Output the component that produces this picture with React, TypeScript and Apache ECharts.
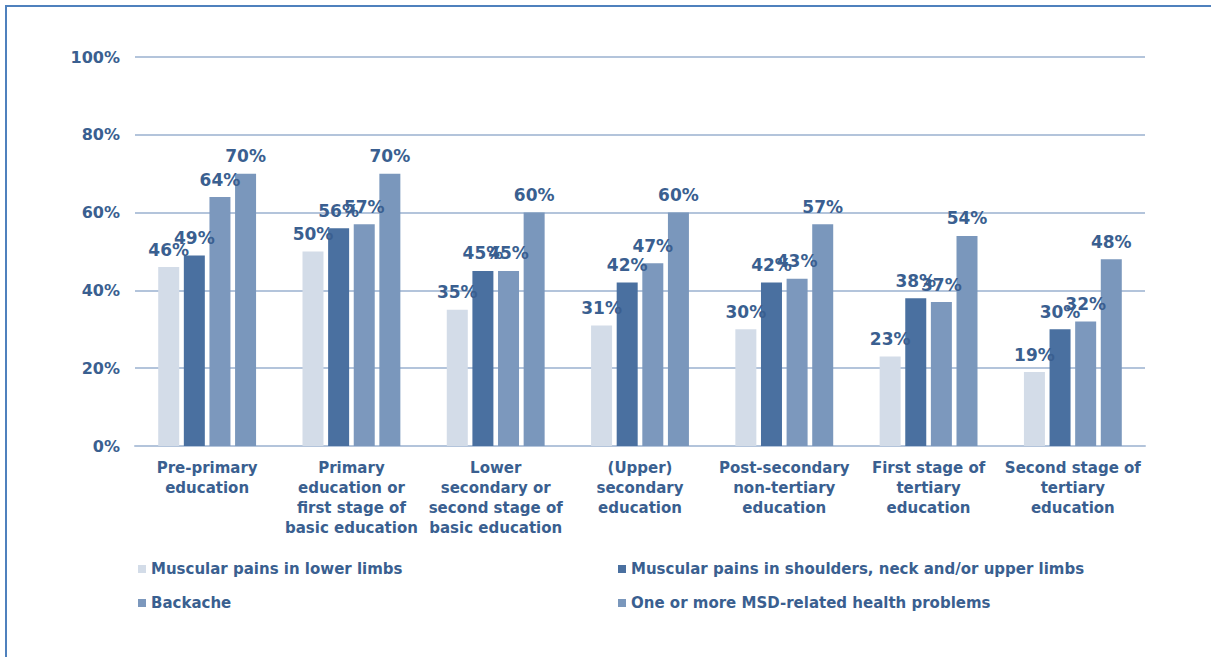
import React, { useEffect, useRef } from "react";
import * as echarts from "echarts";

const categories = [
  "Pre-primary\neducation",
  "Primary\neducation or\nfirst stage of\nbasic education",
  "Lower\nsecondary or\nsecond stage of\nbasic education",
  "(Upper)\nsecondary\neducation",
  "Post-secondary\nnon-tertiary\neducation",
  "First stage of\ntertiary\neducation",
  "Second stage of\ntertiary\neducation",
];

const seriesNames = [
  "Muscular pains in lower limbs",
  "Muscular pains in shoulders, neck and/or upper limbs",
  "Backache",
  "One or more MSD-related health problems",
];

const lowerLimbs = [46, 50, 35, 31, 30, 23, 19];
const upperLimbs = [49, 56, 45, 42, 42, 38, 30];
const backache = [64, 57, 45, 47, 43, 37, 32];
const msdAny = [70, 70, 60, 60, 57, 54, 48];

const yTicks = [0, 20, 40, 60, 80, 100];

const colors = ["#d3dce8", "#4a70a0", "#7c98bd", "#7a97bc"];
const textColor = "#3a5f90";
const font = "'DejaVu Sans', Verdana, sans-serif";

export default function App() {
  const ref = useRef<HTMLDivElement>(null);
  useEffect(() => {
    if (!ref.current) return;
    const chart = echarts.init(ref.current, undefined, { renderer: "svg" });
    const values = [lowerLimbs, upperLimbs, backache, msdAny];
    const legendText = { color: textColor, fontWeight: "bold", fontSize: 15, fontFamily: font, lineHeight: 16 };
    chart.setOption({
      animation: false,
      backgroundColor: "#ffffff",
      textStyle: { fontFamily: font },
      graphic: [
        {
          type: "rect",
          shape: { x: 6, y: 6, width: 1220, height: 670 },
          style: { fill: "none", stroke: "#4f81bd", lineWidth: 2 },
          silent: true,
        },
      ],
      grid: { left: 135, right: 66, top: 57, bottom: 211, containLabel: false },
      legend: [
        {
          data: [seriesNames[0], seriesNames[2]],
          orient: "vertical",
          left: 133,
          top: 556,
          itemWidth: 8,
          itemHeight: 8,
          itemGap: 18,
          icon: "rect",
          textStyle: legendText,
        },
        {
          data: [seriesNames[1], seriesNames[3]],
          orient: "vertical",
          left: 613,
          top: 556,
          itemWidth: 8,
          itemHeight: 8,
          itemGap: 18,
          icon: "rect",
          textStyle: legendText,
        },
      ],
      xAxis: {
        type: "category",
        data: categories,
        axisTick: { show: false },
        axisLine: { lineStyle: { color: "#b3c4db", width: 2 } },
        axisLabel: {
          color: textColor,
          fontWeight: "bold",
          fontSize: 15,
          fontFamily: font,
          lineHeight: 20,
          margin: 12,
          interval: 0,
        },
      },
      yAxis: {
        type: "value",
        min: 0,
        max: 100,
        interval: 20,
        axisLine: { show: false },
        axisTick: { show: false },
        splitLine: { lineStyle: { color: "#b3c4db", width: 2 } },
        axisLabel: {
          color: textColor,
          fontWeight: "bold",
          fontSize: 16,
          fontFamily: font,
          margin: 15,
          formatter: (v: number) => (yTicks.includes(v) ? v + "%" : ""),
        },
      },
      series: seriesNames.map((name, i) => ({
        name,
        type: "bar",
        data: values[i],
        barWidth: 21,
        barGap: "22%",
        itemStyle: { color: colors[i] },
        label: {
          show: true,
          position: "top",
          distance: 9,
          formatter: "{c}%",
          color: textColor,
          fontWeight: "bold",
          fontSize: 17,
          fontFamily: font,
        },
      })),
    });
    return () => chart.dispose();
  }, []);
  return (
    <div
      ref={ref}
      style={{ position: "fixed", left: 0, top: 0, width: 1211, height: 657 }}
    />
  );
}
